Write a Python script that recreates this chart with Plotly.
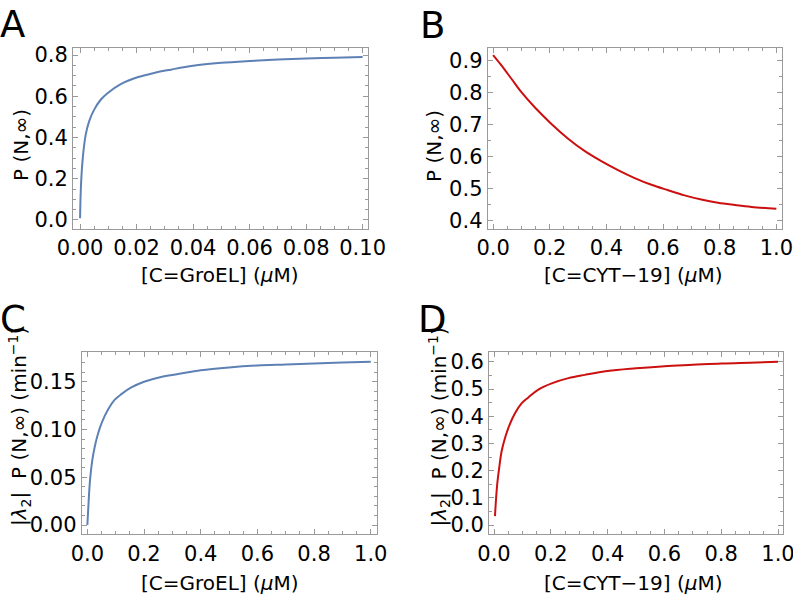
import plotly.graph_objects as go

# ---- data ----
a_x = [0.0, 0.00025, 0.0006, 0.0012, 0.002, 0.0032, 0.005, 0.0073, 0.0097, 0.0144,
       0.0203, 0.0262, 0.0321, 0.04, 0.05, 0.06, 0.07, 0.08, 0.09, 0.1]
a_y = [0.008, 0.14, 0.237, 0.333, 0.414, 0.478, 0.535, 0.583, 0.615, 0.659,
       0.692, 0.713, 0.729, 0.748, 0.762, 0.771, 0.778, 0.783, 0.787, 0.79]

b_x = [0.0, 0.0294, 0.0647, 0.1, 0.147, 0.206, 0.265, 0.324, 0.382, 0.441, 0.5,
       0.559, 0.618, 0.676, 0.735, 0.794, 0.853, 0.912, 1.0]
b_y = [0.918, 0.886, 0.844, 0.802, 0.755, 0.703, 0.657, 0.618, 0.587, 0.559, 0.534,
       0.513, 0.496, 0.48, 0.467, 0.457, 0.45, 0.444, 0.438]

c_x = [0.0, 0.0047, 0.0094, 0.0165, 0.026, 0.038, 0.052, 0.073, 0.096, 0.12, 0.155,
       0.2, 0.26, 0.32, 0.4, 0.5, 0.6, 0.7, 0.8, 0.9, 1.0]
c_y = [0.0, 0.026, 0.047, 0.066, 0.082, 0.096, 0.108, 0.121, 0.131, 0.137, 0.144,
       0.15, 0.155, 0.158, 0.162, 0.165, 0.167, 0.168, 0.169, 0.170, 0.171]

d_x = [0.0035, 0.007, 0.0117, 0.019, 0.027, 0.039, 0.053, 0.074, 0.097, 0.121, 0.156,
       0.203, 0.262, 0.32, 0.4, 0.5, 0.6, 0.7, 0.8, 0.9, 1.0]
d_y = [0.033, 0.093, 0.154, 0.216, 0.272, 0.321, 0.364, 0.411, 0.447, 0.469, 0.498,
       0.521, 0.540, 0.552, 0.566, 0.576, 0.584, 0.589, 0.594, 0.597, 0.600]

panel_letters = ["A", "B", "C", "D"]
x_titles = ["[C=GroEL] (<i>μ</i>M)", "[C=CYT−19] (<i>μ</i>M)",
            "[C=GroEL] (<i>μ</i>M)", "[C=CYT−19] (<i>μ</i>M)"]
y_titles = ["P (N,∞)", "P (N,∞)",
            "|<i>λ</i><sub>2</sub>|  P (N,∞) (min<sup>−1</sup>)",
            "|<i>λ</i><sub>2</sub>|  P (N,∞) (min<sup>−1</sup>)"]

BLUE = "#5E81B5"
RED = "#CC1010"
FRAME = "#9a9a9a"
FONT = "DejaVu Sans"
W, H = 793, 595

fig = go.Figure()
series = [(a_x, a_y, BLUE), (b_x, b_y, RED), (c_x, c_y, BLUE), (d_x, d_y, RED)]
for i, (xs, ys, col) in enumerate(series):
    sfx = "" if i == 0 else str(i + 1)
    fig.add_trace(go.Scatter(x=xs, y=ys, mode="lines", xaxis="x" + sfx, yaxis="y" + sfx,
                             line=dict(color=col, width=2, shape="spline", smoothing=1.0),
                             showlegend=False, hoverinfo="skip"))

# pixel boxes (left, right, top, bottom)
boxes = [(73, 368, 48, 229), (487.7, 782, 48, 229),
         (81.7, 376.7, 352.3, 534.3), (489, 783, 352.3, 534.3)]
xranges = [[-0.0025, 0.1019], [-0.019, 1.02], [-0.02, 1.021], [-0.0176, 1.0176]]
yranges = [[-0.044, 0.834], [0.375, 0.94], [-0.0097, 0.1808], [-0.034, 0.635]]
xdt = [(0.02, 0.005, ".2f"), (0.2, 0.05, ".1f"), (0.2, 0.05, ".1f"), (0.2, 0.05, ".1f")]
ydt = [(0.2, 0.05, ".1f"), (0.1, 0.05, ".1f"), (0.05, 0.01, ".2f"), (0.1, 0.05, ".1f")]


def ax(domain, rng, dt, anchor):
    return dict(domain=domain, range=rng, anchor=anchor, dtick=dt[0], tick0=0,
                tickformat=dt[2], ticks="inside", ticklen=5, tickwidth=1, tickcolor=FRAME,
                minor=dict(dtick=dt[1], ticks="inside", ticklen=3, tickcolor=FRAME, tickwidth=1),
                showline=True, linecolor=FRAME, linewidth=1, mirror="ticks",
                showgrid=False, zeroline=False, automargin=False,
                ticklabeloverflow="allow",
                tickfont=dict(family=FONT, size=21, color="black"))


layout = dict(width=W, height=H, margin=dict(l=0, r=0, t=0, b=0, pad=0, autoexpand=False),
              autosize=False,
              paper_bgcolor="white", plot_bgcolor="white", showlegend=False)
for i, (l, r, t, b) in enumerate(boxes):
    sfx = "" if i == 0 else str(i + 1)
    xd = [l / W, r / W]
    yd = [1 - b / H, 1 - t / H]
    layout["xaxis" + sfx] = ax(xd, xranges[i], xdt[i], "y" + sfx)
    layout["yaxis" + sfx] = ax(yd, yranges[i], ydt[i], "x" + sfx)
fig.update_layout(**layout)

anns = []
letter_pos = [(12.5, 24.5), (432.5, 26), (12.5, 319.5), (432.5, 319.5)]
ytitle_pos = [(21, 145), (434, 146), (19, 427), (438.5, 427)]
xtitle_pos = [(220, 275), (633, 275), (220, 583), (633, 583)]
for i in range(4):
    lx, ly = letter_pos[i]
    anns.append(dict(text=panel_letters[i], x=lx / W, y=1 - ly / H, xref="paper", yref="paper",
                     xanchor="center", yanchor="middle", showarrow=False,
                     font=dict(family=FONT, size=37, color="black")))
    tx, ty = ytitle_pos[i]
    anns.append(dict(text=y_titles[i], x=tx / W, y=1 - ty / H, xref="paper", yref="paper",
                     xanchor="center", yanchor="middle", textangle=-90, showarrow=False,
                     font=dict(family=FONT, size=20, color="black")))
    tx, ty = xtitle_pos[i]
    anns.append(dict(text=x_titles[i], x=tx / W, y=1 - ty / H, xref="paper", yref="paper",
                     xanchor="center", yanchor="middle", showarrow=False,
                     font=dict(family=FONT, size=20, color="black")))
fig.update_layout(annotations=anns)

fig.write_html("out.html", config={"displayModeBar": False, "staticPlot": True},
               post_script="document.body.style.margin='0';document.body.style.overflow='hidden';")
